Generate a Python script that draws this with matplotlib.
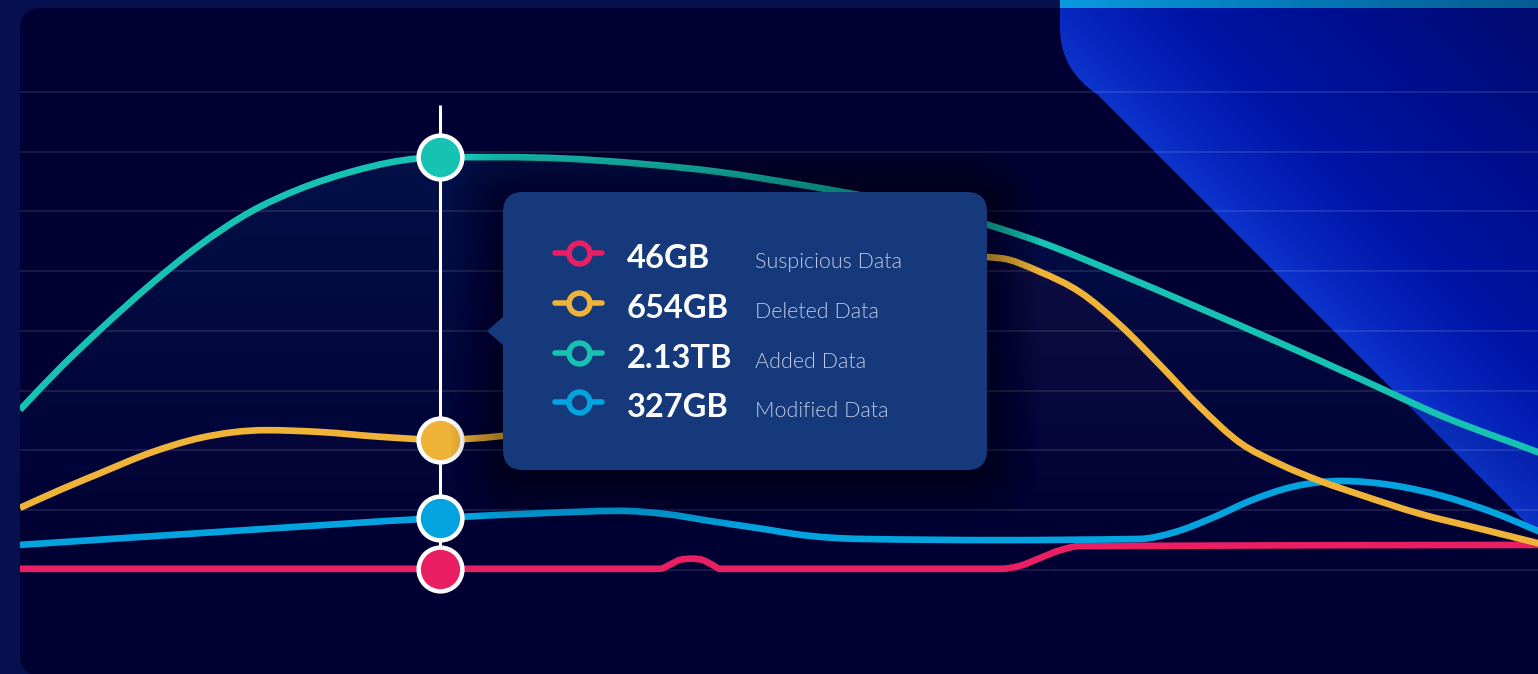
import numpy as np
import matplotlib.pyplot as plt
from matplotlib.patches import FancyBboxPatch, PathPatch, Polygon
from matplotlib.path import Path
from matplotlib.colors import LinearSegmentedColormap

# ---- data (x in time steps, y in chart units; grid lines at 0..8) ----
added_x = [0, 2, 4, 6.5, 9, 11.5, 14, 16.5, 19, 21, 24, 27, 31, 35, 39, 43, 47, 51,
           55, 59, 63, 67, 71, 76]
added_y = [2.68, 3.38, 4.02, 4.77, 5.44, 5.99, 6.38, 6.66, 6.85, 6.91, 6.91, 6.89, 6.80,
           6.66, 6.45, 6.21, 5.91, 5.49, 4.95, 4.38, 3.80, 3.20, 2.59, 1.96]

deleted_x = [0, 2, 4, 6.5, 9, 12.3, 15, 18, 21, 24, 27, 30, 33, 36, 39, 42, 44, 46.5,
             49, 51, 53, 55, 57, 59, 61, 63, 65, 67, 70, 73, 76]
deleted_y = [1.04, 1.34, 1.62, 1.96, 2.21, 2.34, 2.31, 2.23, 2.18, 2.24, 2.39, 2.68,
             3.18, 3.77, 4.35, 4.82, 5.10, 5.26, 5.22, 4.99, 4.65, 4.10, 3.43, 2.73,
             2.13, 1.77, 1.49, 1.26, 0.94, 0.69, 0.44]

modified_x = [0, 10.5, 21, 26, 30, 32.2, 34.7, 37.3, 39, 42, 49, 56, 57.8, 59.6, 61.6,
              63.6, 66.1, 68.6, 71.1, 73.6, 76]
modified_y = [0.42, 0.65, 0.87, 0.95, 0.99, 0.94, 0.81, 0.68, 0.59, 0.52, 0.50, 0.52,
              0.64, 0.87, 1.17, 1.39, 1.49, 1.42, 1.24, 0.97, 0.64]

suspicious_x = [0, 21, 32, 32.5, 33, 33.6, 34.1, 34.6, 35, 49, 50, 51, 52, 53, 76]
suspicious_y = [0.02, 0.02, 0.02, 0.09, 0.17, 0.19, 0.17, 0.09, 0.02, 0.02, 0.07,
                0.20, 0.33, 0.40, 0.42]

hover_x = 21
tip_values = ['46GB', '654GB', '2.13TB', '327GB']
tip_labels = ['Suspicious Data', 'Deleted Data', 'Added Data', 'Modified Data']

c_added = '#16c2b2'
c_deleted = '#efb337'
c_modified = '#03a3df'
c_suspicious = '#e91e63'
tip_colors = [c_suspicious, c_deleted, c_added, c_modified]


def smooth_path(xs, ys, bottom=None):
    # monotone cubic curve through the points (like d3 curveMonotoneX)
    x = np.asarray(xs, float)
    y = np.asarray(ys, float)
    h = np.diff(x)
    d = np.diff(y) / h
    m = np.zeros_like(y)
    m[0], m[-1] = d[0], d[-1]
    for k in range(1, len(x) - 1):
        if d[k - 1] * d[k] > 0:
            p = (d[k - 1] * h[k] + d[k] * h[k - 1]) / (h[k - 1] + h[k])
            m[k] = np.sign(d[k]) * min(abs(d[k - 1]), abs(d[k]), 0.5 * abs(p)) * 2
    verts = [(x[0], y[0])]
    codes = [Path.MOVETO]
    for k in range(len(x) - 1):
        verts += [(x[k] + h[k] / 3, y[k] + m[k] * h[k] / 3),
                  (x[k + 1] - h[k] / 3, y[k + 1] - m[k + 1] * h[k] / 3),
                  (x[k + 1], y[k + 1])]
        codes += [Path.CURVE4] * 3
    if bottom is not None:
        verts += [(x[-1], bottom), (x[0], bottom), (x[0], y[0])]
        codes += [Path.LINETO, Path.LINETO, Path.CLOSEPOLY]
    return Path(verts, codes)


W, H = 1538, 674
fig = plt.figure(figsize=(W / 100, H / 100), dpi=100)
fig.patch.set_facecolor('#07104f')

# background layer in pixel coordinates
bg = fig.add_axes([0, 0, 1, 1], zorder=0)
bg.set_xlim(0, W)
bg.set_ylim(H, 0)
bg.axis('off')
bg.add_patch(FancyBboxPatch((20, 8), 1600, 668, boxstyle='round,pad=0,rounding_size=22',
                            fc='#000033', ec='none'))

# top accent bar
bar = np.linspace(0, 1, 200).reshape(1, -1)
bar_cmap = LinearSegmentedColormap.from_list('bar', ['#0a9ade', '#0578b8', '#065c92'])
bg.imshow(bar, cmap=bar_cmap, extent=(1060, W, 8, 0), aspect='auto', zorder=1)

# diagonal blue shape with gradient
verts = [(1060, 8), (1060, 28), (1060, 70), (1098, 95), (W, 535), (W, 8), (1060, 8)]
codes = [Path.MOVETO, Path.LINETO, Path.CURVE3, Path.CURVE3, Path.LINETO, Path.LINETO,
         Path.CLOSEPOLY]
shape = PathPatch(Path(verts, codes), fc='none', ec='none')
bg.add_patch(shape)
gx, gy = np.meshgrid(np.arange(1040, W + 1), np.arange(0, 560))
dist = (gx - gy - 1003) / np.sqrt(2)
stops = [0, 40, 120, 250, 400]
cols = np.array([[14, 52, 204], [6, 38, 190], [0, 20, 165], [0, 14, 138], [0, 10, 104]]) / 255
img = np.stack([np.interp(dist, stops, cols[:, k]) for k in range(3)], axis=-1)
im = bg.imshow(img, extent=(1040, W + 1, 560, 0), aspect='auto', zorder=1)
im.set_clip_path(shape)

# ---- chart ----
ax = fig.add_axes([20 / W, 0, (W - 20) / W, 666 / H], zorder=1)
ax.patch.set_alpha(0)
ax.set_xlim(0, 75.9)
ax.set_ylim(-1.741, 9.406)
for s in ax.spines.values():
    s.set_visible(False)
ax.set_xticks([])
ax.set_yticks(range(0, 9))
ax.tick_params(length=0, labelleft=False)
ax.grid(axis='y', color='white', alpha=0.1, lw=1.5)

# soft area fills under the teal and yellow lines
grad = np.linspace(0, 1, 100).reshape(-1, 1)
for xs, ys, rgb, top, amax, z in [(added_x, added_y, (0.02, 0.12, 0.36), 7.0, 0.55, 0.5),
                                  (deleted_x, deleted_y, (0.12, 0.06, 0.25), 5.3, 0.45, 0.6)]:
    fcm = LinearSegmentedColormap.from_list('f', [rgb + (0.0,), rgb + (amax,)])
    gim = ax.imshow(grad, cmap=fcm, extent=(0, 76, 0.3, top), origin='lower',
                    aspect='auto', zorder=z)
    gim.set_clip_path(smooth_path(xs, ys, bottom=-1.741), transform=ax.transData)

for xs, ys, c, z in [(suspicious_x, suspicious_y, c_suspicious, 2),
                     (modified_x, modified_y, c_modified, 3),
                     (deleted_x, deleted_y, c_deleted, 4),
                     (added_x, added_y, c_added, 5)]:
    ax.add_patch(PathPatch(smooth_path(xs, ys), fill=False, ec=c, lw=4.8,
                           capstyle='butt', joinstyle='round', zorder=z))

# hover line and markers
hover_vals = [s_y[s_x.index(hover_x)] for s_x, s_y in
              [(suspicious_x, suspicious_y), (deleted_x, deleted_y),
               (added_x, added_y), (modified_x, modified_y)]]
ax.vlines(hover_x, min(hover_vals), 7.78, color='white', lw=2.2, zorder=6)
for v, c in zip(hover_vals, tip_colors):
    ax.plot(hover_x, v, 'o', ms=31.5, mfc=c, mec='white', mew=3.2, zorder=7)

# ---- tooltip ----
ov = fig.add_axes([0, 0, 1, 1], zorder=3)
ov.set_xlim(0, W)
ov.set_ylim(H, 0)
ov.axis('off')
ov.patch.set_alpha(0)
for i in range(1, 14):
    ov.add_patch(FancyBboxPatch((503 - i * 4, 196 - i * 4), 484 + i * 8, 278 + i * 8,
                                boxstyle='round,pad=0,rounding_size=%d' % (20 + i * 4),
                                fc='black', ec='none', alpha=0.03))
tip_bg = '#15397b'
ov.add_patch(FancyBboxPatch((503, 192), 484, 278, boxstyle='round,pad=0,rounding_size=20',
                            fc=tip_bg, ec='none'))
ov.add_patch(Polygon([(504, 316), (487, 331), (504, 346)], closed=True, fc=tip_bg, ec='none'))

for i, (val, lab, c) in enumerate(zip(tip_values, tip_labels, tip_colors)):
    yc = 253.3 + i * 49.7
    ov.plot([555, 602], [yc, yc], color=c, lw=4, solid_capstyle='round')
    ov.plot(578.5, yc, 'o', ms=15, mfc=tip_bg, mec=c, mew=4)
    ov.text(627, yc + 15, val, fontsize=23.5, fontweight='bold', color='white',
            family=['Lato', 'DejaVu Sans'], va='baseline', ha='left')
    ov.text(755, yc + 15, lab, fontsize=15.5, fontweight=300, color='#c0cae4',
            family=['Lato', 'DejaVu Sans'], va='baseline', ha='left')

fig.savefig('out.png', dpi=100, facecolor=fig.get_facecolor())
